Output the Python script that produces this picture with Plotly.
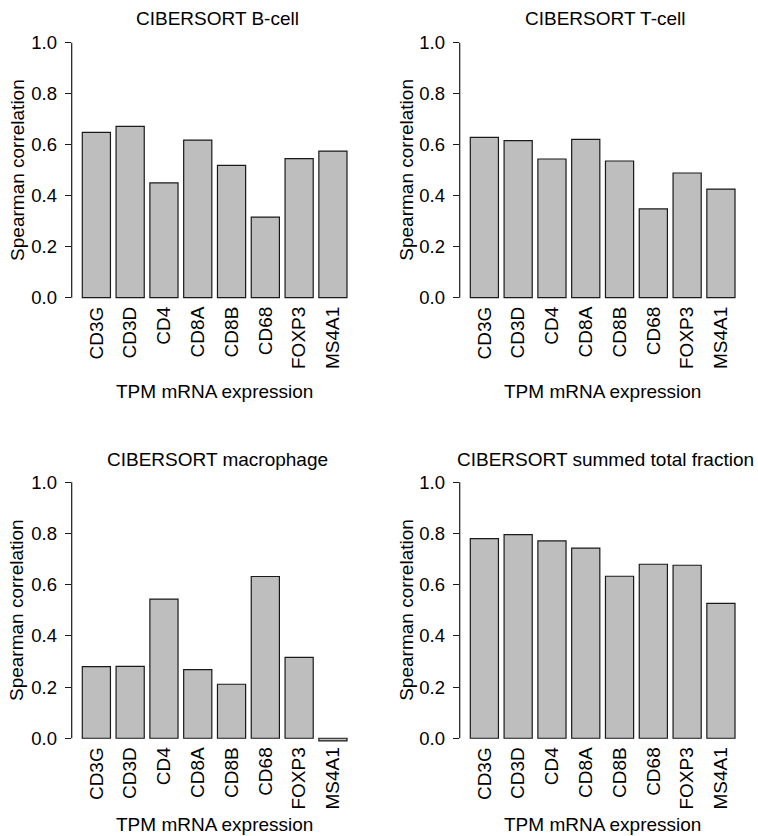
import plotly.graph_objects as go

genes = ["CD3G", "CD3D", "CD4", "CD8A", "CD8B", "CD68", "FOXP3", "MS4A1"]
titles = ["CIBERSORT B-cell", "CIBERSORT T-cell",
          "CIBERSORT macrophage", "CIBERSORT summed total fraction"]
bcell = [0.648, 0.672, 0.450, 0.618, 0.519, 0.316, 0.545, 0.575]
tcell = [0.629, 0.616, 0.544, 0.621, 0.536, 0.348, 0.489, 0.426]
macrophage = [0.280, 0.281, 0.544, 0.268, 0.211, 0.632, 0.316, -0.010]
summed = [0.780, 0.796, 0.771, 0.743, 0.633, 0.680, 0.676, 0.527]
yticks = [0.0, 0.2, 0.4, 0.6, 0.8, 1.0]
xlabel = "TPM mRNA expression"
ylabel = "Spearman correlation"

series = [bcell, tcell, macrophage, summed]

W, H = 758, 836
FONT = "Liberation Sans, Arial, Helvetica, sans-serif"

# plot regions in pixels: (left, right, top, bottom)
regions = [
    (71.7, 357.6, 32.5, 307.9),
    (459.7, 745.6, 32.5, 307.9),
    (71.7, 357.6, 472.1, 748.5),
    (459.7, 745.6, 472.1, 748.5),
]
title_y = [19, 19, 459.7, 459.7]
xlab_y = [391.7, 391.7, 824.7, 824.7]
ylab_x = [16.7, 406.5, 16.7, 406.5]

fig = go.Figure()
shapes = []
annotations = []
layout = {}
for k in range(4):
    n = "" if k == 0 else str(k + 1)
    l, r, t, b = regions[k]
    fig.add_trace(go.Bar(
        x=genes, y=series[k], width=1 / 1.2,
        marker=dict(color="#BEBEBE", line=dict(color="#1a1a1a", width=1.2)),
        xaxis="x" + n, yaxis="y" + n, showlegend=False, hoverinfo="x+y",
    ))
    layout["xaxis" + n] = dict(
        domain=[l / W, r / W], anchor="y" + n, type="category",
        range=[-0.73, 7.73], showline=False, showgrid=False, zeroline=False,
        ticks="", tickangle=-90, ticklabelstandoff=-6,
        tickfont=dict(family=FONT, size=19, color="black"),
        fixedrange=True,
    )
    layout["yaxis" + n] = dict(
        domain=[1 - b / H, 1 - t / H], anchor="x" + n,
        range=[-0.04, 1.04], showline=False, showgrid=False, zeroline=False,
        tickvals=yticks, ticktext=["%.1f" % v for v in yticks],
        ticks="outside", ticklen=6, tickwidth=1.2, tickcolor="#1a1a1a",
        ticklabelstandoff=4,
        tickfont=dict(family=FONT, size=18.5, color="black"),
        fixedrange=True,
    )
    shapes.append(dict(
        type="line", xref="x" + n + " domain", yref="y" + n,
        x0=0, x1=0, y0=yticks[0], y1=yticks[-1],
        line=dict(color="#1a1a1a", width=1.2),
    ))
    cx = (l + r) / 2 / W
    annotations.append(dict(
        text=titles[k], xref="paper", yref="paper", x=cx + 3 / W, y=1 - title_y[k] / H,
        xanchor="center", yanchor="middle", showarrow=False,
        font=dict(family=FONT, size=19, color="black"),
    ))
    annotations.append(dict(
        text=xlabel, xref="paper", yref="paper", x=cx, y=1 - xlab_y[k] / H,
        xanchor="center", yanchor="middle", showarrow=False,
        font=dict(family=FONT, size=19, color="black"),
    ))
    annotations.append(dict(
        text=ylabel, xref="paper", yref="paper", x=ylab_x[k] / W,
        y=1 - (t + b) / 2 / H, xanchor="center", yanchor="middle",
        textangle=-90, showarrow=False,
        font=dict(family=FONT, size=19, color="black"),
    ))

fig.update_layout(
    width=W, height=H, margin=dict(l=0, r=0, t=0, b=0),
    paper_bgcolor="white", plot_bgcolor="white",
    shapes=shapes, annotations=annotations, **layout,
)
fig.write_html("out.html")
